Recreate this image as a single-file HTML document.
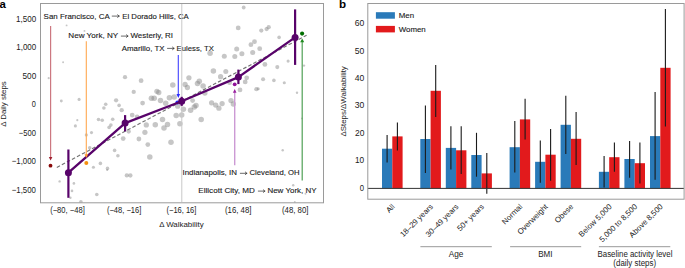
<!DOCTYPE html>
<html><head><meta charset="utf-8"><style>
html,body{margin:0;padding:0;background:#fff;width:685px;height:268px;overflow:hidden}
svg{display:block;font-family:"Liberation Sans", sans-serif}
.s text{stroke:#1a1a1a;stroke-width:0.12px}
</style></head><body>
<svg width="685" height="268" viewBox="0 0 685 268">
<text x="-0.5" y="8.0" font-size="11.4" font-weight="bold" fill="#000">a</text>
<text x="339.0" y="7.9" font-size="11.6" font-weight="bold" fill="#000">b</text>
<!-- panel a -->
<g class="s" font-size="8.0" fill="#1a1a1a">
<text x="43.6" y="19.0" textLength="66.1" lengthAdjust="spacingAndGlyphs">San Francisco, CA</text>
<text x="122.2" y="19.0" textLength="66.6" lengthAdjust="spacingAndGlyphs">El Dorado Hills, CA</text>
<text x="68.3" y="37.85" textLength="49.9" lengthAdjust="spacingAndGlyphs">New York, NY</text>
<text x="130.5" y="37.85" textLength="42.5" lengthAdjust="spacingAndGlyphs">Westerly, RI</text>
<text x="121.7" y="51.0" textLength="42.9" lengthAdjust="spacingAndGlyphs">Amarillo, TX</text>
<text x="176.6" y="51.0" textLength="37.2" lengthAdjust="spacingAndGlyphs">Euless, TX</text>
<text x="182.5" y="174.85" textLength="54.4" lengthAdjust="spacingAndGlyphs">Indianapolis, IN</text>
<text x="249.5" y="174.85" textLength="50.0" lengthAdjust="spacingAndGlyphs">Cleveland, OH</text>
<text x="198.3" y="192.85" textLength="56.5" lengthAdjust="spacingAndGlyphs">Ellicott City, MD</text>
<text x="267.4" y="192.85" textLength="49.1" lengthAdjust="spacingAndGlyphs">New York, NY</text>
</g>
<g fill="none" stroke="#1a1a1a" stroke-width="0.65" stroke-linecap="round" stroke-linejoin="round">
<path d="M112.2,16.10 H119.2 M117.6,14.80 L119.2,16.10 L117.6,17.40"/>
<path d="M121.3,36.10 H128.0 M126.4,34.80 L128.0,36.10 L126.4,37.40"/>
<path d="M167.5,48.40 H174.1 M172.5,47.10 L174.1,48.40 L172.5,49.70"/>
<path d="M240.3,173.30 H246.9 M245.3,172.00 L246.9,173.30 L245.3,174.60"/>
<path d="M258.3,191.10 H264.9 M263.3,189.80 L264.9,191.10 L263.3,192.40"/>
</g>
<clipPath id="ca"><rect x="40.5" y="3.5" width="283" height="199.3"/></clipPath>
<g fill="#888" fill-opacity="0.48" clip-path="url(#ca)"><circle cx="66.6" cy="25.4" r="0.96"/><circle cx="84.5" cy="30.9" r="0.96"/><circle cx="63.1" cy="62.2" r="0.96"/><circle cx="48.7" cy="78.2" r="1.08"/><circle cx="61.3" cy="101.0" r="1.44"/><circle cx="79.1" cy="99.4" r="1.56"/><circle cx="105.7" cy="104.3" r="1.80"/><circle cx="103.9" cy="108.0" r="1.80"/><circle cx="116.1" cy="100.3" r="2.16"/><circle cx="119.1" cy="105.4" r="1.80"/><circle cx="77.3" cy="120.2" r="1.08"/><circle cx="75.4" cy="125.9" r="1.56"/><circle cx="98.5" cy="119.5" r="1.80"/><circle cx="102.2" cy="120.2" r="1.80"/><circle cx="112.7" cy="119.2" r="1.80"/><circle cx="110.9" cy="125.1" r="1.80"/><circle cx="109.1" cy="127.4" r="1.80"/><circle cx="91.5" cy="132.6" r="1.56"/><circle cx="86.3" cy="134.9" r="1.56"/><circle cx="89.7" cy="147.8" r="1.80"/><circle cx="114.6" cy="150.4" r="1.80"/><circle cx="117.9" cy="155.7" r="1.80"/><circle cx="100.4" cy="163.4" r="1.80"/><circle cx="93.4" cy="167.2" r="1.56"/><circle cx="107.5" cy="168.4" r="1.80"/><circle cx="59.6" cy="181.4" r="1.20"/><circle cx="73.9" cy="183.4" r="1.32"/><circle cx="72.0" cy="190.9" r="1.32"/><circle cx="70.4" cy="197.8" r="1.20"/><circle cx="96.8" cy="194.5" r="1.80"/><circle cx="80.9" cy="201.7" r="1.80"/><circle cx="107.2" cy="170.0" r="1.08"/><circle cx="125.0" cy="77.2" r="2.16"/><circle cx="141.1" cy="80.7" r="2.40"/><circle cx="133.7" cy="91.9" r="2.16"/><circle cx="142.6" cy="103.1" r="2.40"/><circle cx="156.9" cy="91.3" r="2.64"/><circle cx="158.8" cy="92.5" r="2.64"/><circle cx="160.5" cy="100.5" r="2.76"/><circle cx="165.7" cy="103.2" r="2.76"/><circle cx="169.4" cy="97.8" r="2.76"/><circle cx="174.2" cy="96.9" r="2.76"/><circle cx="172.8" cy="85.0" r="2.76"/><circle cx="185.1" cy="84.5" r="2.64"/><circle cx="187.4" cy="87.5" r="2.64"/><circle cx="188.9" cy="77.8" r="2.64"/><circle cx="192.6" cy="100.6" r="2.40"/><circle cx="194.3" cy="106.9" r="2.76"/><circle cx="177.7" cy="106.2" r="2.64"/><circle cx="183.4" cy="109.2" r="2.76"/><circle cx="121.7" cy="110.2" r="2.16"/><circle cx="132.2" cy="115.1" r="2.40"/><circle cx="137.1" cy="116.9" r="2.40"/><circle cx="128.7" cy="131.6" r="2.16"/><circle cx="123.2" cy="138.6" r="2.40"/><circle cx="138.9" cy="139.0" r="2.40"/><circle cx="144.9" cy="132.3" r="2.64"/><circle cx="146.3" cy="124.9" r="2.64"/><circle cx="155.3" cy="124.7" r="2.76"/><circle cx="162.5" cy="119.5" r="2.76"/><circle cx="167.5" cy="124.4" r="2.76"/><circle cx="164.0" cy="128.1" r="2.76"/><circle cx="176.2" cy="115.4" r="2.76"/><circle cx="181.7" cy="115.1" r="2.76"/><circle cx="179.9" cy="123.7" r="2.76"/><circle cx="171.0" cy="142.3" r="2.76"/><circle cx="147.8" cy="144.6" r="2.40"/><circle cx="190.6" cy="110.2" r="2.76"/><circle cx="149.8" cy="156.9" r="2.76"/><circle cx="126.8" cy="175.4" r="2.16"/><circle cx="130.4" cy="175.5" r="2.16"/><circle cx="243.7" cy="7.5" r="1.92"/><circle cx="238.2" cy="27.9" r="2.40"/><circle cx="261.3" cy="30.6" r="2.16"/><circle cx="266.6" cy="29.1" r="2.16"/><circle cx="268.7" cy="27.2" r="2.16"/><circle cx="210.1" cy="53.2" r="2.76"/><circle cx="224.3" cy="56.2" r="2.52"/><circle cx="234.8" cy="56.6" r="2.52"/><circle cx="236.7" cy="48.9" r="2.52"/><circle cx="241.9" cy="53.7" r="2.52"/><circle cx="252.7" cy="52.6" r="2.52"/><circle cx="250.9" cy="44.7" r="2.40"/><circle cx="254.5" cy="41.7" r="2.40"/><circle cx="259.7" cy="48.7" r="2.40"/><circle cx="264.9" cy="64.4" r="2.40"/><circle cx="213.4" cy="71.1" r="2.76"/><circle cx="225.8" cy="71.6" r="2.52"/><circle cx="199.3" cy="81.2" r="2.76"/><circle cx="197.5" cy="83.4" r="2.76"/><circle cx="203.1" cy="86.1" r="2.76"/><circle cx="204.9" cy="93.1" r="2.64"/><circle cx="220.6" cy="76.7" r="2.64"/><circle cx="229.6" cy="82.7" r="2.40"/><circle cx="246.7" cy="77.8" r="2.40"/><circle cx="245.2" cy="81.9" r="2.40"/><circle cx="240.0" cy="89.9" r="2.40"/><circle cx="263.1" cy="79.3" r="2.04"/><circle cx="256.4" cy="89.2" r="2.16"/><circle cx="196.0" cy="105.4" r="2.76"/><circle cx="211.6" cy="102.8" r="2.64"/><circle cx="215.7" cy="105.1" r="2.64"/><circle cx="222.1" cy="103.6" r="2.64"/><circle cx="231.0" cy="100.6" r="2.64"/><circle cx="233.3" cy="104.0" r="2.64"/><circle cx="218.9" cy="108.2" r="2.64"/><circle cx="201.2" cy="119.5" r="2.76"/><circle cx="279.1" cy="37.4" r="1.80"/><circle cx="277.3" cy="67.1" r="2.04"/><circle cx="288.1" cy="61.1" r="1.56"/><circle cx="304.0" cy="65.6" r="1.20"/><circle cx="273.9" cy="80.4" r="1.80"/><circle cx="284.3" cy="82.7" r="1.56"/><circle cx="258.2" cy="88.7" r="1.56"/><circle cx="297.0" cy="92.8" r="1.20"/><circle cx="302.0" cy="118.4" r="0.96"/><circle cx="282.7" cy="150.2" r="1.20"/><circle cx="293.2" cy="185.2" r="1.20"/><circle cx="305.5" cy="193.8" r="0.96"/><circle cx="294.8" cy="202.0" r="0.96"/><circle cx="151.4" cy="98.3" r="2.76"/><circle cx="154.2" cy="98.3" r="2.76"/></g>
<line x1="181.8" y1="3.5" x2="181.8" y2="202" stroke="#c8c8c8" stroke-width="1"/>
<rect x="40.5" y="3.5" width="283" height="199.3" fill="none" stroke="#9a9a9a" stroke-width="1"/>
<g fill="#1a1a1a"><text x="16.05" y="21.60" font-size="9.0" textLength="20.10" lengthAdjust="spacingAndGlyphs">1,500</text><text x="16.25" y="50.30" font-size="9.0" textLength="20.00" lengthAdjust="spacingAndGlyphs">1,000</text><text x="22.55" y="78.70" font-size="9.0" textLength="13.70" lengthAdjust="spacingAndGlyphs">500</text><text x="31.85" y="107.10" font-size="9.0" textLength="4.10" lengthAdjust="spacingAndGlyphs">0</text><text x="18.85" y="135.80" font-size="9.0" textLength="17.10" lengthAdjust="spacingAndGlyphs">−500</text><text x="11.75" y="164.20" font-size="9.0" textLength="24.20" lengthAdjust="spacingAndGlyphs">−1,000</text><text x="11.75" y="192.50" font-size="9.0" textLength="24.20" lengthAdjust="spacingAndGlyphs">−1,500</text></g>
<g fill="#1a1a1a"><text x="50.15" y="213.10" font-size="8.8" textLength="34.60" lengthAdjust="spacingAndGlyphs">(−80, −48]</text><text x="106.95" y="213.10" font-size="8.8" textLength="34.40" lengthAdjust="spacingAndGlyphs">(−48, −16]</text><text x="166.55" y="213.10" font-size="8.8" textLength="29.80" lengthAdjust="spacingAndGlyphs">(−16, 16]</text><text x="224.95" y="213.10" font-size="8.8" textLength="26.50" lengthAdjust="spacingAndGlyphs">(16, 48]</text><text x="281.95" y="213.10" font-size="8.8" textLength="26.50" lengthAdjust="spacingAndGlyphs">(48, 80]</text></g>
<text x="181.4" y="227" font-size="7.9" fill="#1a1a1a" text-anchor="middle">Δ Walkability</text>
<text transform="translate(6.4,104) rotate(-90)" font-size="7.9" fill="#1a1a1a" text-anchor="middle">Δ Daily steps</text>
<line x1="50.6" y1="26" x2="50.6" y2="158" stroke="#cc7880" stroke-width="1.2"/>
<line x1="86.3" y1="41.2" x2="86.3" y2="155" stroke="#ffa850" stroke-width="1.1"/>
<line x1="178.3" y1="55" x2="178.3" y2="95" stroke="#4242ff" stroke-width="1.1"/>
<line x1="234.7" y1="92" x2="234.7" y2="165.2" stroke="#cc9ad4" stroke-width="1.4"/>
<line x1="302.2" y1="41.5" x2="302.2" y2="180.4" stroke="#50a056" stroke-width="1.2"/>
<circle cx="50.5" cy="165.7" r="1.9" fill="#8a0a0a"/>
<circle cx="86.3" cy="162.9" r="2" fill="#f59010"/>
<circle cx="177.4" cy="102.6" r="2" fill="#2a2aff"/>
<circle cx="234.7" cy="84.3" r="1.9" fill="#90109a"/>
<circle cx="302.1" cy="33.6" r="2.05" fill="#006e00"/>
<line x1="56.8" y1="167.4" x2="306.6" y2="35.3" stroke="#737373" stroke-width="1.15" stroke-dasharray="3.6,2.1"/>
<polyline points="68.4,172.7 125.1,123.1 181.7,101.3 238.4,77.1 295.1,37.4" fill="none" stroke="#58036a" stroke-width="2.3" stroke-linejoin="round"/>
<g stroke="#58036a" stroke-width="2.2"><line x1="68.4" y1="149.5" x2="68.4" y2="197.8"/><line x1="125.1" y1="115.1" x2="125.1" y2="131.4"/><line x1="181.7" y1="96.8" x2="181.7" y2="105.9"/><line x1="238.4" y1="69.6" x2="238.4" y2="84.1"/><line x1="295.1" y1="9.4" x2="295.1" y2="64.9"/></g>
<g fill="#58036a"><circle cx="68.4" cy="172.7" r="3.5"/><circle cx="125.1" cy="123.1" r="3.5"/><circle cx="181.7" cy="101.3" r="3.5"/><circle cx="238.4" cy="77.1" r="3.5"/><circle cx="295.1" cy="37.4" r="3.5"/></g>
<path d="M48.8,156.9 L52.4,156.9 L50.6,160.4 Z" fill="#a02030"/>
<path d="M84.5,154.3 L88.1,154.3 L86.3,158.0 Z" fill="#ff9a30"/>
<path d="M176.5,94.1 L180.1,94.1 L178.3,97.9 Z" fill="#2a2aff"/>
<path d="M232.9,92.7 L236.5,92.7 L234.7,89.0 Z" fill="#9a20a0"/>
<path d="M300.2,42.2 L304.2,42.2 L302.2,38.6 Z" fill="#208a20"/>
<!-- panel b -->
<g><rect x="382.0" y="148.7" width="10.3" height="39.7" fill="#2a7ab9"/>
<rect x="392.3" y="136.4" width="10.3" height="52.0" fill="#e21a1c"/>
<rect x="420.3" y="139.0" width="10.3" height="49.4" fill="#2a7ab9"/>
<rect x="430.6" y="90.8" width="10.3" height="97.6" fill="#e21a1c"/>
<rect x="445.8" y="147.9" width="10.3" height="40.5" fill="#2a7ab9"/>
<rect x="456.1" y="150.3" width="10.3" height="38.1" fill="#e21a1c"/>
<rect x="471.3" y="155.0" width="10.3" height="33.4" fill="#2a7ab9"/>
<rect x="481.6" y="173.4" width="10.3" height="15.0" fill="#e21a1c"/>
<rect x="509.6" y="147.2" width="10.3" height="41.2" fill="#2a7ab9"/>
<rect x="519.9" y="119.4" width="10.3" height="69.0" fill="#e21a1c"/>
<rect x="535.1" y="161.8" width="10.3" height="26.6" fill="#2a7ab9"/>
<rect x="545.4" y="154.7" width="10.3" height="33.7" fill="#e21a1c"/>
<rect x="560.6" y="124.8" width="10.3" height="63.6" fill="#2a7ab9"/>
<rect x="570.9" y="138.8" width="10.3" height="49.6" fill="#e21a1c"/>
<rect x="598.9" y="171.8" width="10.3" height="16.6" fill="#2a7ab9"/>
<rect x="609.2" y="157.2" width="10.3" height="31.2" fill="#e21a1c"/>
<rect x="624.4" y="159.0" width="10.3" height="29.4" fill="#2a7ab9"/>
<rect x="634.7" y="163.2" width="10.3" height="25.2" fill="#e21a1c"/>
<rect x="650.0" y="136.1" width="10.3" height="52.3" fill="#2a7ab9"/>
<rect x="660.3" y="67.8" width="10.3" height="120.6" fill="#e21a1c"/></g>
<g stroke="#1a1a1a" stroke-width="1.1"><line x1="387.1" y1="134.9" x2="387.1" y2="162.6"/>
<line x1="397.4" y1="122.6" x2="397.4" y2="150.5"/>
<line x1="425.4" y1="105.4" x2="425.4" y2="173.0"/>
<line x1="435.7" y1="64.9" x2="435.7" y2="116.9"/>
<line x1="450.9" y1="126.3" x2="450.9" y2="169.6"/>
<line x1="461.2" y1="126.3" x2="461.2" y2="174.0"/>
<line x1="476.5" y1="132.8" x2="476.5" y2="176.7"/>
<line x1="486.8" y1="152.9" x2="486.8" y2="193.7"/>
<line x1="514.8" y1="121.0" x2="514.8" y2="172.5"/>
<line x1="525.1" y1="98.8" x2="525.1" y2="139.5"/>
<line x1="540.3" y1="140.4" x2="540.3" y2="182.7"/>
<line x1="550.6" y1="129.1" x2="550.6" y2="180.8"/>
<line x1="565.8" y1="95.7" x2="565.8" y2="154.0"/>
<line x1="576.1" y1="111.9" x2="576.1" y2="164.9"/>
<line x1="604.1" y1="156.1" x2="604.1" y2="187.4"/>
<line x1="614.4" y1="142.5" x2="614.4" y2="171.8"/>
<line x1="629.6" y1="141.0" x2="629.6" y2="177.8"/>
<line x1="639.9" y1="142.5" x2="639.9" y2="183.5"/>
<line x1="655.1" y1="91.9" x2="655.1" y2="179.7"/>
<line x1="665.4" y1="9.1" x2="665.4" y2="126.6"/></g>
<line x1="367.8" y1="188.4" x2="684" y2="188.4" stroke="#333" stroke-width="1"/>
<rect x="367.8" y="3.5" width="316.3" height="195.7" fill="none" stroke="#9a9a9a" stroke-width="1"/>
<rect x="375.9" y="12.2" width="19" height="6.5" fill="#2a7ab9"/>
<rect x="375.9" y="25.9" width="19" height="6.5" fill="#e21a1c"/>
<g class="s" font-size="7.9" fill="#1a1a1a">
<text x="398.7" y="18.3">Men</text>
<text x="398.7" y="32">Women</text>
</g>
<g fill="#1a1a1a"><text x="354.75" y="25.70" font-size="8.8" textLength="9.60" lengthAdjust="spacingAndGlyphs">60</text><text x="354.75" y="53.50" font-size="8.8" textLength="9.60" lengthAdjust="spacingAndGlyphs">50</text><text x="354.75" y="80.90" font-size="8.8" textLength="9.60" lengthAdjust="spacingAndGlyphs">40</text><text x="354.75" y="108.40" font-size="8.8" textLength="9.60" lengthAdjust="spacingAndGlyphs">30</text><text x="354.95" y="135.90" font-size="8.8" textLength="9.40" lengthAdjust="spacingAndGlyphs">20</text><text x="354.95" y="163.30" font-size="8.8" textLength="9.20" lengthAdjust="spacingAndGlyphs">10</text><text x="359.85" y="191.00" font-size="8.8" textLength="4.30" lengthAdjust="spacingAndGlyphs">0</text></g>
<text transform="translate(345.9,101.4) rotate(-90)" font-size="7.9" fill="#1a1a1a" text-anchor="middle">ΔSteps/ΔWalkability</text>
<g font-size="7.8" fill="#1a1a1a"><text transform="translate(395.3,207.2) rotate(-45)" text-anchor="end">All</text>
<text transform="translate(433.6,207.2) rotate(-45)" text-anchor="end">18–29 years</text>
<text transform="translate(459.1,207.2) rotate(-45)" text-anchor="end">30–49 years</text>
<text transform="translate(484.6,207.2) rotate(-45)" text-anchor="end">50+ years</text>
<text transform="translate(522.9,207.2) rotate(-45)" text-anchor="end">Normal</text>
<text transform="translate(548.4,207.2) rotate(-45)" text-anchor="end">Overweight</text>
<text transform="translate(573.9,207.2) rotate(-45)" text-anchor="end">Obese</text>
<text transform="translate(612.2,207.2) rotate(-45)" text-anchor="end">Below 5,000</text>
<text transform="translate(637.7,207.2) rotate(-45)" text-anchor="end">5,000 to 8,500</text>
<text transform="translate(663.3,207.2) rotate(-45)" text-anchor="end">Above 8,500</text></g>
<g stroke="#999" stroke-width="1">
<line x1="420.4" y1="246.7" x2="491.8" y2="246.7"/>
<line x1="510.1" y1="246.7" x2="581.2" y2="246.7"/>
<line x1="598.9" y1="246.7" x2="670.3" y2="246.7"/>
</g>
<g fill="#1a1a1a"><text x="448.65" y="256.90" font-size="8.5" textLength="14.70" lengthAdjust="spacingAndGlyphs">Age</text><text x="538.25" y="257.00" font-size="8.5" textLength="14.30" lengthAdjust="spacingAndGlyphs">BMI</text><text x="597.55" y="256.90" font-size="8.5" textLength="74.90" lengthAdjust="spacingAndGlyphs">Baseline activity level</text><text x="613.35" y="265.60" font-size="8.5" textLength="42.70" lengthAdjust="spacingAndGlyphs">(daily steps)</text></g>
</svg>
</body></html>
